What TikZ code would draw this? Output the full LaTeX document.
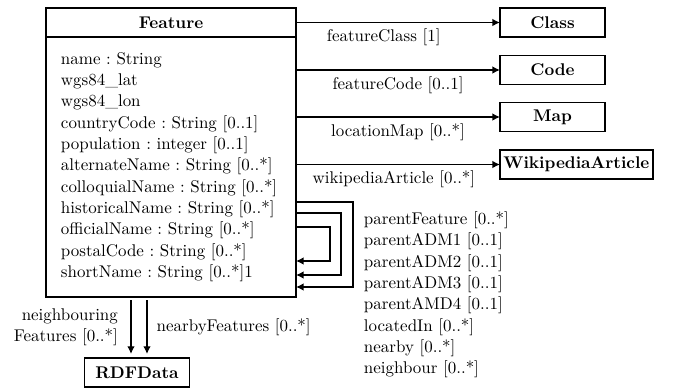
\documentclass[tikz,border=0pt]{standalone}
\usetikzlibrary{positioning}
\usetikzlibrary{arrows.meta}

\newcommand{\pxu}{0.59pt}

\begin{document}
\begin{tikzpicture}[x=\pxu, y=-\pxu,
    classbox/.style={draw, line width=1pt, outer sep=0pt, font=\bfseries,
      inner sep=2pt, minimum width=62pt, minimum height=17.1pt},
    link/.style={thick, -{Latex[length=4.5pt, width=4.5pt]}},
    role/.style={font=\fontsize{10}{12.6}\selectfont\frenchspacing}]
\useasboundingbox (0,0) rectangle (679,390);

% Feature class with its attributes
\node[classbox, minimum width=147.5pt] (feat) at (171,22.5) {Feature};
\node[draw, line width=1pt, outer sep=0pt, anchor=north, minimum height=153.4pt,
      text width=129.8pt, inner xsep=8.85pt, align=left, role]
      (attrs) at (feat.south)
      {name : String\\
       wgs84\_lat\\
       wgs84\_lon\\
       countryCode : String [0..1]\\
       population : integer [0..1]\\
       alternateName : String [0..*]\\
       colloquialName : String [0..*]\\
       historicalName : String [0..*]\\
       officialName : String [0..*]\\
       postalCode : String [0..*]\\
       shortName : String [0..*]1};

% target classes
\node[classbox, anchor=west] (cls) at (500,22.5) {Class};
\node[classbox, anchor=west] (code) at (500,70) {Code};
\node[classbox, anchor=west] (map) at (500,117) {Map};
\node[classbox, anchor=west] (wiki) at (500,164.5) {WikipediaArticle};
\node[classbox] (rdf) at (137,372.5) {RDFData};

\draw[link] (cls.west -| feat.east) -- node[below, pos=0.43] {featureClass [1]} (cls.west);
\draw[link] (code.west -| attrs.east) -- node[below] {featureCode [0..1]} (code.west);
\draw[link] (map.west -| attrs.east) -- node[below] {locationMap [0..*]} (map.west);
\draw[link] (wiki.west -| attrs.east) -- node[below, pos=0.48] {wikipediaArticle [0..*]} (wiki.west);

% self associations
\draw[link] (attrs.north east) ++(0,165) -| ++(57,85) -- ++(-57,0);
\draw[link] (attrs.north east) ++(0,176) -| ++(45,62) -- ++(-45,0);
\draw[link] (attrs.north east) ++(0,190) -| ++(34,34) -- ++(-34,0);
\node[role, anchor=west, align=left] (roles) at (358,295)
  {parentFeature [0..*]\\
   parentADM1 [0..1]\\
   parentADM2 [0..1]\\
   parentADM3 [0..1]\\
   parentAMD4 [0..1]\\
   locatedIn [0..*]\\
   nearby [0..*]\\
   neighbour [0..*]};

% links to RDFData
\coordinate (nbL) at ([xshift=-3.54pt]rdf.north);
\coordinate (nbR) at ([xshift=5.9pt]rdf.north);
\draw[link, shorten <=1.8pt, shorten >=2.4pt] (nbL |- attrs.south) --
  node[left=4pt, align=right, role] {neighbouring\\Features [0..*]} (nbL);
\draw[link, shorten <=1.8pt, shorten >=2.4pt] (nbR |- attrs.south) --
  node[right=2pt] {nearbyFeatures [0..*]} (nbR);
\end{tikzpicture}
\end{document}
